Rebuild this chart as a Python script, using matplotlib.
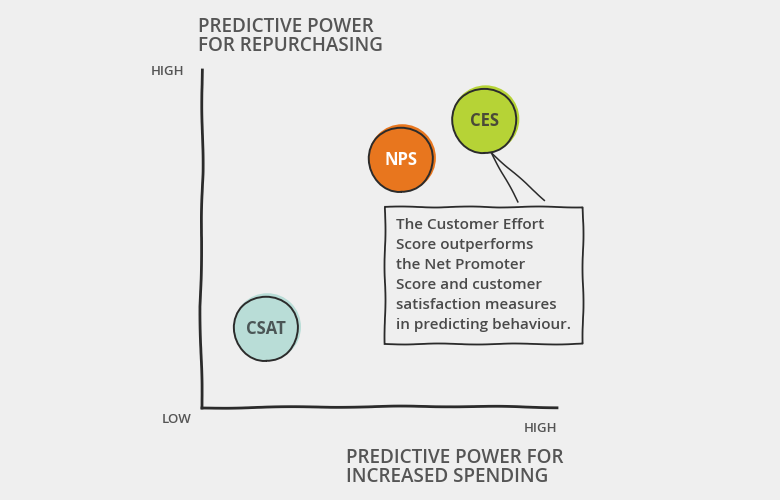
'''
Hand-drawn style quadrant chart:
predictive power of CSAT, NPS and CES
'''

import matplotlib.pyplot as plt

# metrics and where they sit (0 = low, 10 = high)
metrics = ['CSAT', 'NPS', 'CES']
spending = [1.8, 5.6, 7.95]
repurchasing = [2.35, 7.35, 8.5]
fill_colours = ['#b9ddd7', '#e8761e', '#b6d336']
text_colours = ['#4b5656', '#ffffff', '#4a4a38']

note = ('The Customer Effort\nScore outperforms\nthe Net Promoter\n'
        'Score and customer\nsatisfaction measures\nin predicting behaviour.')

bg = '#efefef'
ink = '#2b2b2b'
grey = '#555555'

plt.rcParams['font.family'] = ['Open Sans', 'DejaVu Sans']

fig = plt.figure(figsize=(7.8, 5), dpi=100, facecolor=bg)
ax = fig.add_axes([202/780, 92/500, 355/780, 338/500])
ax.set_facecolor(bg)
ax.set_xlim(0, 10)
ax.set_ylim(0, 10)
for s in ax.spines.values():
  s.set_visible(False)
ax.set_xticks([])
ax.set_yticks([])

# sketchy axes
yax, = ax.plot([0, -0.05, 0.02, 0], [0, 3, 7, 10], color=ink, lw=2, clip_on=False)
xax, = ax.plot([0, 3, 7, 10], [0, 0.03, 0.05, 0.02], color=ink, lw=2, clip_on=False)
for ln in (yax, xax):
  ln.set_sketch_params(0.5, 120, 2)

# bubbles: colour halo then outlined disc
halo = ax.scatter([x + 0.04 for x in spending], [y + 0.05 for y in repurchasing],
                  s=2350, c=fill_colours, edgecolors='none', zorder=2)
disc = ax.scatter(spending, repurchasing, s=2150, c=fill_colours,
                  edgecolors=ink, linewidths=1.4, zorder=3)
disc.set_sketch_params(0.4, 60, 2)
for m, x, y, tc in zip(metrics, spending, repurchasing, text_colours):
  ax.text(x, y, m, ha='center', va='center', color=tc, fontsize=12,
          fontweight='bold', zorder=4)

# callout from CES to note box
ces_x, ces_y = spending[2], repurchasing[2]
for bx, by in [(8.9, 6.1), (9.65, 6.15)]:
  ln, = ax.plot([ces_x + 0.2, bx], [ces_y - 0.95, by], color=ink, lw=1.1, zorder=1)
  ln.set_sketch_params(0.4, 60, 2)

box = ax.text(5.47, 3.93, note, ha='left', va='center', fontsize=11,
              color='#4a4a4a', fontweight='semibold', linespacing=1.55,
              clip_on=False, zorder=5,
              bbox=dict(boxstyle='square,pad=0.75', fc=bg, ec=ink, lw=1.3))
box.get_bbox_patch().set_sketch_params(0.5, 80, 2)

# axis labels
lab = dict(color=grey, clip_on=False, fontweight='semibold')
ax.text(-0.1, 10.42, 'PREDICTIVE POWER\nFOR REPURCHASING', ha='left', va='bottom',
        fontsize=13.6, linespacing=0.95, **lab)
ax.text(-0.5, 9.95, 'HIGH', ha='right', va='center', fontsize=9.5, **lab)
ax.text(-0.3, -0.35, 'LOW', ha='right', va='center', fontsize=9.5, **lab)
ax.text(10, -0.6, 'HIGH', ha='right', va='center', fontsize=9.5, **lab)
ax.text(4.05, -1.18, 'PREDICTIVE POWER FOR\nINCREASED SPENDING', ha='left', va='top',
        fontsize=13.6, linespacing=0.95, **lab)

plt.savefig('out.png', dpi=100, facecolor=bg)
